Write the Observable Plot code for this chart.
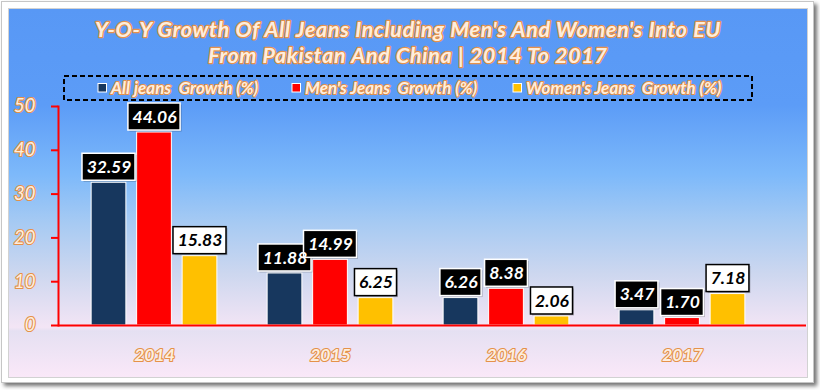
<!DOCTYPE html>
<html><head><meta charset="utf-8">
<script src="https://cdn.jsdelivr.net/npm/d3@7"></script>
<script src="https://cdn.jsdelivr.net/npm/@observablehq/plot@0.6"></script>
<style>
html,body{margin:0;padding:0;background:#fff;width:820px;height:390px;overflow:hidden;position:relative;font-family:Lato,sans-serif;}
#frame{position:absolute;left:1px;top:1px;width:811px;height:380px;background:#fff;border:1px solid #c6c6c6;box-shadow:3px 3px 4px rgba(0,0,0,0.55);}
#panel{position:absolute;left:8px;top:8px;width:798px;height:368px;border:1px solid #d2d2d2;
 background:linear-gradient(to bottom,#5898f5 0%,#5c9cf7 26%,#7db9fa 45%,#a6caf3 58%,#cdd7ef 72%,#f3e5f5 86.5%,#e5e0f2 87.5%,#fae8f8 100%);}
#chart,#header{position:absolute;left:0;top:0;}
.out{paint-order:stroke fill;stroke-linejoin:round;}
svg text{paint-order:stroke fill;stroke-linejoin:round;}
</style></head>
<body>
<div id="frame"></div>
<div id="panel"></div>
<div id="chart"></div>
<svg id="header" width="820" height="110" xmlns="http://www.w3.org/2000/svg"></svg>
<script>
// ---- data ----
const years = ["2014", "2015", "2016", "2017"];
const seriesNames = ["All jeans  Growth (%)", "Men's Jeans  Growth (%)", "Women's Jeans  Growth (%)"];
const allJeans = [32.59, 11.88, 6.26, 3.47];
const mensJeans = [44.06, 14.99, 8.38, 1.70];
const womensJeans = [15.83, 6.25, 2.06, 7.18];
const yTicks = [0, 10, 20, 30, 40, 50];
const titleLines = ["Y-O-Y Growth Of All Jeans Including Men's And Women's Into EU", "From Pakistan And China | 2014 To 2017"];

// ---- styles ----
const colors = ["#17375e", "#ff0000", "#ffc000"];
const boxFill = ["#000000", "#000000", "#ffffff"];
const boxStroke = ["#ffffff", "#ffffff", "#000000"];
const labelFill = ["#ffffff", "#ffffff", "#000000"];
const outFill = "#fdeede", outStroke = "#e5914a";
const offsets = [-45.5, 0, 45.5];
const xRange = [64, 771];
const bw = (xRange[1] - xRange[0]) / years.length;
const barW = 35.5;
const labelFont = "italic bold 17.5px Lato";

const values = [allJeans, mensJeans, womensJeans];
const rows = [];
values.forEach((arr, k) => arr.forEach((v, i) => rows.push({year: years[i], k, value: v, label: v.toFixed(2)})));

const ctx = document.createElement("canvas").getContext("2d");
ctx.font = labelFont;
const textW = s => ctx.measureText(s).width;

const marks = [];
// bars
[0, 1, 2].forEach(k => {
  marks.push(Plot.barY(rows.filter(d => d.k === k), {
    x: "year", y1: 0, y2: "value", fill: colors[k], stroke: "#ffffff", strokeWidth: 1,
    dx: offsets[k], insetLeft: (bw - barW) / 2, insetRight: (bw - barW) / 2
  }));
});
// label boxes (shadow + box), sized to the label text
rows.forEach(d => {
  const w = textW(d.label) + 9;
  const ins = (bw - w) / 2;
  marks.push(Plot.barY([d], {
    x: "year", y1: "value", y2: "value", dx: offsets[d.k] + 1.5, dy: 1.5,
    insetLeft: ins, insetRight: ins, insetTop: -29, insetBottom: 2, fill: "#000", fillOpacity: 0.22
  }));
  marks.push(Plot.barY([d], {
    x: "year", y1: "value", y2: "value", dx: offsets[d.k],
    insetLeft: ins, insetRight: ins, insetTop: -29, insetBottom: 2,
    fill: boxFill[d.k], stroke: boxStroke[d.k], strokeWidth: 1.5
  }));
});
// label texts
[0, 1, 2].forEach(k => {
  marks.push(Plot.text(rows.filter(d => d.k === k), {
    x: "year", y: "value", text: "label", dx: offsets[k], dy: -15.5,
    fill: labelFill[k], fontSize: 17.5, fontWeight: "bold", fontStyle: "italic", fontFamily: "Lato"
  }));
});
marks.push(
  Plot.axisY({ticks: yTicks, tickSize: 7, tickPadding: 16, stroke: "red", strokeWidth: 2,
    fill: outFill, textStroke: outStroke, textStrokeWidth: 2.2, fontSize: 18.5, fontStyle: "italic",
    fontFamily: "Lato", label: null}),
  Plot.axisX({tickSize: 0, tickPadding: 23, fill: outFill, textStroke: outStroke, textStrokeWidth: 2.2,
    fontSize: 17.5, fontStyle: "italic", fontWeight: "bold", fontFamily: "Lato", label: null}),
  Plot.ruleY([0], {stroke: "red", strokeWidth: 2}),
  Plot.frame({anchor: "left", stroke: "red", strokeWidth: 2})
);

const chart = Plot.plot({
  width: 820, height: 390,
  marginTop: 106, marginBottom: 65, marginLeft: 58, marginRight: 14,
  style: {background: "transparent", fontFamily: "Lato", overflow: "visible"},
  x: {type: "band", domain: years, range: xRange, padding: 0},
  y: {domain: [0, 50]},
  marks
});
document.getElementById("chart").appendChild(chart);

// ---- header: title and legend ----
const header = d3.select("#header");
titleLines.forEach((t, i) => {
  header.append("text").attr("x", 408).attr("y", 37 + i * 26).attr("text-anchor", "middle")
    .attr("font-family", "Lato").attr("font-size", 21.5).attr("font-weight", "bold").attr("font-style", "italic")
    .attr("letter-spacing", "0.7px")
    .attr("fill", outFill).attr("stroke", outStroke).attr("stroke-width", 2.4).attr("class", "out")
    .text(t);
});
header.append("rect").attr("x", 64).attr("y", 76).attr("width", 688).attr("height", 24)
  .attr("fill", "none").attr("stroke", "#000").attr("stroke-width", 2).attr("stroke-dasharray", "5,3");
const legendX = [98, 292, 513];
seriesNames.forEach((s, k) => {
  header.append("rect").attr("x", legendX[k]).attr("y", 83.5).attr("width", 8.5).attr("height", 8.5)
    .attr("fill", colors[k]).attr("stroke", "#fff").attr("stroke-width", 1);
  header.append("text").attr("x", legendX[k] + 13).attr("y", 93.5)
    .attr("font-family", "Lato").attr("font-size", 17).attr("font-weight", "bold").attr("font-style", "italic")
    .attr("fill", outFill).attr("stroke", outStroke).attr("stroke-width", 2).attr("class", "out")
    .style("white-space", "pre").text(s);
});
</script>
</body></html>
